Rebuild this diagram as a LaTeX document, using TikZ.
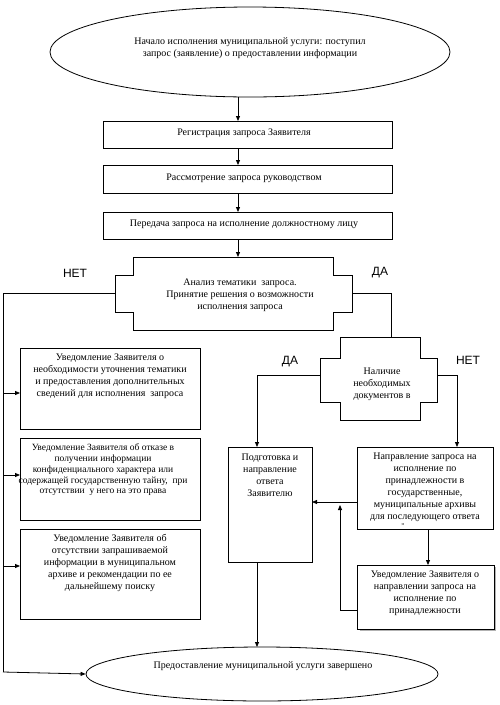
\documentclass[tikz,border=0pt]{standalone}
\usepackage{fontspec}
\setmainfont{Liberation Serif}
\newfontfamily\sansf{Liberation Sans}
\usetikzlibrary{arrows.meta,shapes.geometric}
\begin{document}
\begin{tikzpicture}[x=1pt,y=-1pt,
  line width=0.8pt,
  arr/.style={-{Triangle[length=5pt,width=4pt]}},
  txt/.style={align=center,inner sep=0pt,font=\fontsize{10}{12}\selectfont},
  lbl/.style={inner sep=0pt,font=\sansf\fontsize{12}{14}\selectfont},
  boxr/.style={draw,fill=white}]
\useasboundingbox (0,0) rectangle (500,705);
% top ellipse
\node[draw,ellipse,minimum width=400pt,minimum height=90pt,inner sep=0pt] (start) at (250,52) {};
\node[txt] (starttxt) at (250,48) {Начало исполнения муниципальной услуги: поступил\\запрос (заявление) о предоставлении информации};
% boxes
\draw (103,121) rectangle (392,148); \node (b1) at (247.5,134.5) [minimum width=289pt,minimum height=27pt,inner sep=0pt] {};
\node[txt] at (244,133) {Регистрация запроса Заявителя};
\draw (103,165) rectangle (392,193); \node (b2) at (247.5,179) [minimum width=289pt,minimum height=28pt,inner sep=0pt] {};
\node[txt] at (244,178) {Рассмотрение запроса руководством};
\draw (103,212) rectangle (392,239); \node (b3) at (247.5,225.5) [minimum width=289pt,minimum height=27pt,inner sep=0pt] {};
\node[txt] at (244,224) {Передача запроса на исполнение должностному лицу};
% decision 1
\draw (133,257)--(333,257)--(333,275)--(352,275)--(352,312)--(333,312)--(333,330)--(133,330)--(133,312)--(115,312)--(115,275)--(133,275)--cycle;
\node[txt] (d1) at (240,295) {Анализ тематики \ запроса.\\Принятие решения о возможности\\исполнения запроса};
\coordinate (d1top) at (238,257);
\coordinate (d1l) at (115,293);
\coordinate (d1r) at (352,293);
% labels
\node[lbl] (net1) at (75,273) {НЕТ};
\node[lbl] (da1) at (380,273) {ДА};
\node[lbl] (da2) at (290,362) {ДА};
\node[lbl] (net2) at (468,360) {НЕТ};
% vertical arrows top
\draw[arr] (238,97) -- (238,121);
\draw[arr] (238,148) -- (238,165);
\draw[arr] (238,193) -- (238,212);
\draw[arr] (238,239) -- (d1top);
% left boxes
\draw (20,348) rectangle (200,429);
\node[txt] (l1) at (110,376) {Уведомление Заявителя о\\необходимости уточнения тематики\\и предоставления дополнительных\\сведений для исполнения \ запроса};
\draw (20,438) rectangle (200,520);
\node[align=center,inner sep=0pt,font=\fontsize{9.5}{10.8}\selectfont] (l2) at (103,470) {Уведомление Заявителя об отказе в\\получении информации\\конфиденциального характера или\\содержащей государственную тайну, \ при\\отсутствии \ у него на это права};
\draw (20,529) rectangle (200,619);
\node[txt] (l3) at (110,563) {Уведомление Заявителя об\\отсутствии запрашиваемой\\информации в муниципальном\\архиве и рекомендации по ее\\дальнейшему поиску};
\coordinate (lc) at (3,293);
\coordinate (lb) at (3,672);
\draw (d1l) -- (lc) -- (lb);
\draw[arr] (3,393) -- (20,393);
\draw[arr] (3,475) -- (20,475);
\draw[arr] (3,566) -- (20,566);
% bottom ellipse
\node[draw,ellipse,minimum width=352pt,minimum height=54pt,inner sep=0pt] (end) at (262,674) {};
\node[txt] (endtxt) at (263,666) {Предоставление муниципальной услуги завершено};
\draw[arr] (lb) -- (end.west);
% decision 2
\draw (d1r) -- (391,293) -- (391,337);
\draw (340,337)--(420,337)--(420,358)--(437,358)--(437,402)--(420,402)--(420,420)--(340,420)--(340,402)--(320,402)--(320,358)--(340,358)--cycle;
\node[txt] (d2) at (382,384) {Наличие\\необходимых\\документов в};
% right boxes
\draw (228,447) rectangle (312,562);
\node[txt] (p) at (270,475) {Подготовка и\\направление\\ответа\\Заявителю};
\draw (357,447) rectangle (493,529);
\node[txt] (n) at (425,487) {Направление запроса на\\исполнение по\\принадлежности в\\государственные,\\муниципальные архивы\\для последующего ответа};
\node[inner sep=0pt,font=\fontsize{7}{7}\selectfont] (nq) at (403,526) {''};
\draw[gray!60,line width=1.2pt] (359.5,630.5) -- (495.5,630.5) -- (495.5,567);
\draw[boxr] (357,565) rectangle (494,629);
\node[txt] (u) at (425,593) {Уведомление Заявителя о\\направлении запроса на\\исполнение по\\принадлежности};
% connectors
\draw[arr] (320,375) -- (257,375) -- (257,447);
\draw[arr] (437,375) -- (457,375) -- (457,447);
\draw[arr] (357,502) -- (312,502);
\draw[arr] (357,610) -- (340,610) -- (340,505);
\draw[arr] (428,529) -- (428,565);
\draw[arr] (257,562) -- (257,647);
\end{tikzpicture}
\end{document}
